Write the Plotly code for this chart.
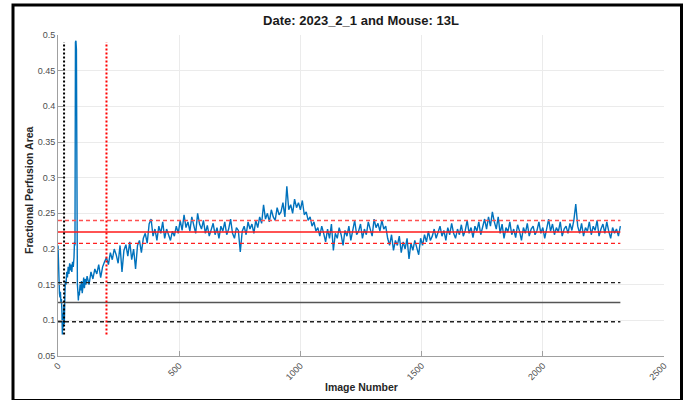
import plotly.graph_objects as go

# ---------------- data ----------------
early_images = [0, 2, 4, 6, 8, 10, 12, 14, 16, 18, 20, 22, 24, 26, 28, 30, 33, 36, 39, 42,
                45, 48, 51, 54, 57, 60, 63, 66, 68, 70, 72, 74, 76, 78, 80, 82, 84, 86, 88, 91,
                94, 97, 100, 103, 106, 109, 112, 115]
early_values = [0.205, 0.160, 0.148, 0.138, 0.132, 0.140, 0.125, 0.130, 0.115, 0.080,
                0.110, 0.090, 0.120, 0.095, 0.130, 0.155, 0.150, 0.168, 0.160, 0.175,
                0.165, 0.180, 0.170, 0.178, 0.168, 0.182, 0.175, 0.188, 0.210, 0.205,
                0.490, 0.492, 0.480, 0.210, 0.150, 0.140, 0.128, 0.140, 0.135, 0.150,
                0.142, 0.155, 0.138, 0.148, 0.160, 0.145, 0.158, 0.150]

late_start, late_step = 120, 8
late_values = [
    0.162, 0.150, 0.168, 0.158, 0.172, 0.165, 0.178, 0.160, 0.175, 0.182,
    0.188, 0.178, 0.195, 0.185, 0.200, 0.192, 0.180, 0.205, 0.168, 0.198,
    0.206, 0.190, 0.210, 0.185, 0.200, 0.172, 0.205, 0.212, 0.195, 0.215,
    0.222, 0.208, 0.235, 0.242, 0.218, 0.228, 0.212, 0.232, 0.222, 0.238,
    0.215, 0.228, 0.220, 0.212, 0.225, 0.218, 0.232, 0.222, 0.240, 0.226,
    0.248, 0.230, 0.238, 0.225, 0.245, 0.232, 0.222, 0.250, 0.235, 0.228,
    0.240, 0.222, 0.233, 0.218, 0.228, 0.236, 0.220, 0.230, 0.215, 0.232,
    0.225, 0.238, 0.220, 0.228, 0.242, 0.222, 0.215, 0.230, 0.226, 0.196,
    0.225, 0.232, 0.220, 0.238, 0.228, 0.235, 0.222, 0.240, 0.230, 0.245,
    0.236, 0.262, 0.242, 0.250, 0.238, 0.255, 0.245, 0.240, 0.258, 0.248,
    0.252, 0.265, 0.245, 0.288, 0.255, 0.262, 0.250, 0.270, 0.258, 0.265,
    0.255, 0.268, 0.248, 0.252, 0.240, 0.245, 0.232, 0.238, 0.225, 0.230,
    0.218, 0.232, 0.222, 0.210, 0.228, 0.215, 0.235, 0.198, 0.222, 0.215,
    0.230, 0.220, 0.205, 0.226, 0.218, 0.232, 0.212, 0.228, 0.240, 0.220,
    0.225, 0.235, 0.215, 0.228, 0.220, 0.238, 0.226, 0.218, 0.242, 0.230,
    0.236, 0.225, 0.240, 0.228, 0.232, 0.215, 0.205, 0.220, 0.198, 0.212,
    0.205, 0.218, 0.195, 0.210, 0.200, 0.215, 0.186, 0.208, 0.198, 0.212,
    0.202, 0.192, 0.215, 0.205, 0.220, 0.210, 0.225, 0.212, 0.218, 0.228,
    0.215, 0.224, 0.232, 0.218, 0.226, 0.212, 0.230, 0.220, 0.236, 0.222,
    0.215, 0.228, 0.220, 0.234, 0.218, 0.226, 0.240, 0.222, 0.230, 0.216,
    0.232, 0.225, 0.238, 0.220, 0.230, 0.242, 0.228, 0.245, 0.232, 0.252,
    0.238, 0.228, 0.245, 0.222, 0.235, 0.215, 0.230, 0.224, 0.238, 0.220,
    0.228, 0.216, 0.234, 0.225, 0.212, 0.230, 0.222, 0.236, 0.218, 0.228,
    0.232, 0.220, 0.226, 0.238, 0.222, 0.230, 0.215, 0.228, 0.242, 0.225,
    0.235, 0.220, 0.230, 0.224, 0.238, 0.218, 0.228, 0.232, 0.222, 0.236,
    0.226, 0.240, 0.263, 0.232, 0.222, 0.236, 0.218, 0.230, 0.225, 0.238,
    0.220, 0.232, 0.226, 0.240, 0.218, 0.228, 0.235, 0.222, 0.238, 0.225,
    0.215, 0.230, 0.222, 0.228, 0.218, 0.232,
]
late_images = list(range(late_start, late_start + late_step * len(late_values), late_step))

images = early_images + late_images
values = early_values + late_values
last_image = images[-1]

# reference levels
stim_mean, stim_upper, stim_lower = 0.224, 0.240, 0.208
base_mean, base_upper, base_lower = 0.125, 0.153, 0.098
marker_black_x, marker_red_x = 25, 200
marker_y_range = [0.08, 0.49]

title_text = "Date: 2023_2_1 and Mouse: 13L"
x_label = "Image Number"
y_label = "Fractional Perfusion Area"
x_ticks = [0, 500, 1000, 1500, 2000, 2500]
y_ticks = [0.05, 0.1, 0.15, 0.2, 0.25, 0.3, 0.35, 0.4, 0.45, 0.5]

# ---------------- figure ----------------
FONT = "Liberation Sans, Arial, Helvetica, sans-serif"
fig = go.Figure()

fig.add_trace(go.Scatter(x=images, y=values, mode="lines",
                         line=dict(color="#0072BD", width=1.4), hoverinfo="skip"))

def hline(y, color, dash, width):
    fig.add_trace(go.Scatter(x=[0, last_image], y=[y, y], mode="lines",
                             line=dict(color=color, dash=dash, width=width), hoverinfo="skip"))

hline(base_mean, "#555555", "solid", 1.5)
hline(base_upper, "#222222", "4px,3px", 1.3)
hline(base_lower, "#222222", "4px,3px", 1.3)
hline(stim_mean, "#ff1a1a", "solid", 1.5)
hline(stim_upper, "#ff5050", "4px,3px", 1.4)
hline(stim_lower, "#ff2020", "4px,3px", 1.3)

fig.add_trace(go.Scatter(x=[marker_black_x, marker_black_x], y=marker_y_range, mode="lines",
                         line=dict(color="#000000", dash="2px,2px", width=2), hoverinfo="skip"))
fig.add_trace(go.Scatter(x=[marker_red_x, marker_red_x], y=marker_y_range, mode="lines",
                         line=dict(color="#ff0000", dash="2px,2px", width=2), hoverinfo="skip"))

W, H = 688, 400
L, R, T, B = 58, 24, 35, 44
pw, ph = W - L - R, H - T - B

def px_x(p):
    return (p - L) / pw

def px_y(p):
    return (H - B - p) / ph

fig.update_layout(
    width=W, height=H, autosize=False,
    margin=dict(l=L, r=R, t=T, b=B),
    paper_bgcolor="white", plot_bgcolor="white",
    showlegend=False,
    font=dict(family=FONT, size=10, color="#4d4d4d"),
    title=dict(text="<b>" + title_text + "</b>", x=0.5, xref="paper",
               y=1 - 20 / H, yref="container", xanchor="center", yanchor="middle",
               font=dict(family=FONT, size=13, color="#1a1a1a")),
    xaxis=dict(range=[0, 2500], tickvals=x_ticks, ticktext=[str(v) for v in x_ticks],
               tickangle=-45, showgrid=True, gridcolor="#ebebeb", gridwidth=1,
               showline=True, linecolor="#a0a0a0", linewidth=1,
               ticks="inside", ticklen=5, tickcolor="#a0a0a0", zeroline=False,
               tickfont=dict(family=FONT, size=9, color="#4d4d4d")),
    yaxis=dict(range=[0.05, 0.5], tickvals=y_ticks, ticktext=[f"{v:g}" for v in y_ticks],
               showgrid=True, gridcolor="#ebebeb", gridwidth=1,
               showline=True, linecolor="#a0a0a0", linewidth=1,
               ticks="inside", ticklen=5, tickcolor="#a0a0a0", zeroline=False,
               tickfont=dict(family=FONT, size=9, color="#4d4d4d")),
    annotations=[
        dict(text="<b>" + y_label + "</b>", xref="paper", yref="paper",
             x=px_x(29), y=px_y(190), textangle=-90, showarrow=False,
             xanchor="center", yanchor="middle",
             font=dict(family=FONT, size=10.5, color="#262626")),
        dict(text="<b>" + x_label + "</b>", xref="paper", yref="paper",
             x=px_x(361), y=px_y(387), showarrow=False,
             xanchor="center", yanchor="middle",
             font=dict(family=FONT, size=10.5, color="#262626")),
    ],
    shapes=[
        dict(type="rect", xref="paper", yref="paper",
             x0=px_x(13), x1=px_x(681.5), y0=px_y(400.5), y1=px_y(5),
             line=dict(color="#000000", width=3), fillcolor="rgba(0,0,0,0)", layer="above"),
    ],
)

fig.write_html("out.html")
